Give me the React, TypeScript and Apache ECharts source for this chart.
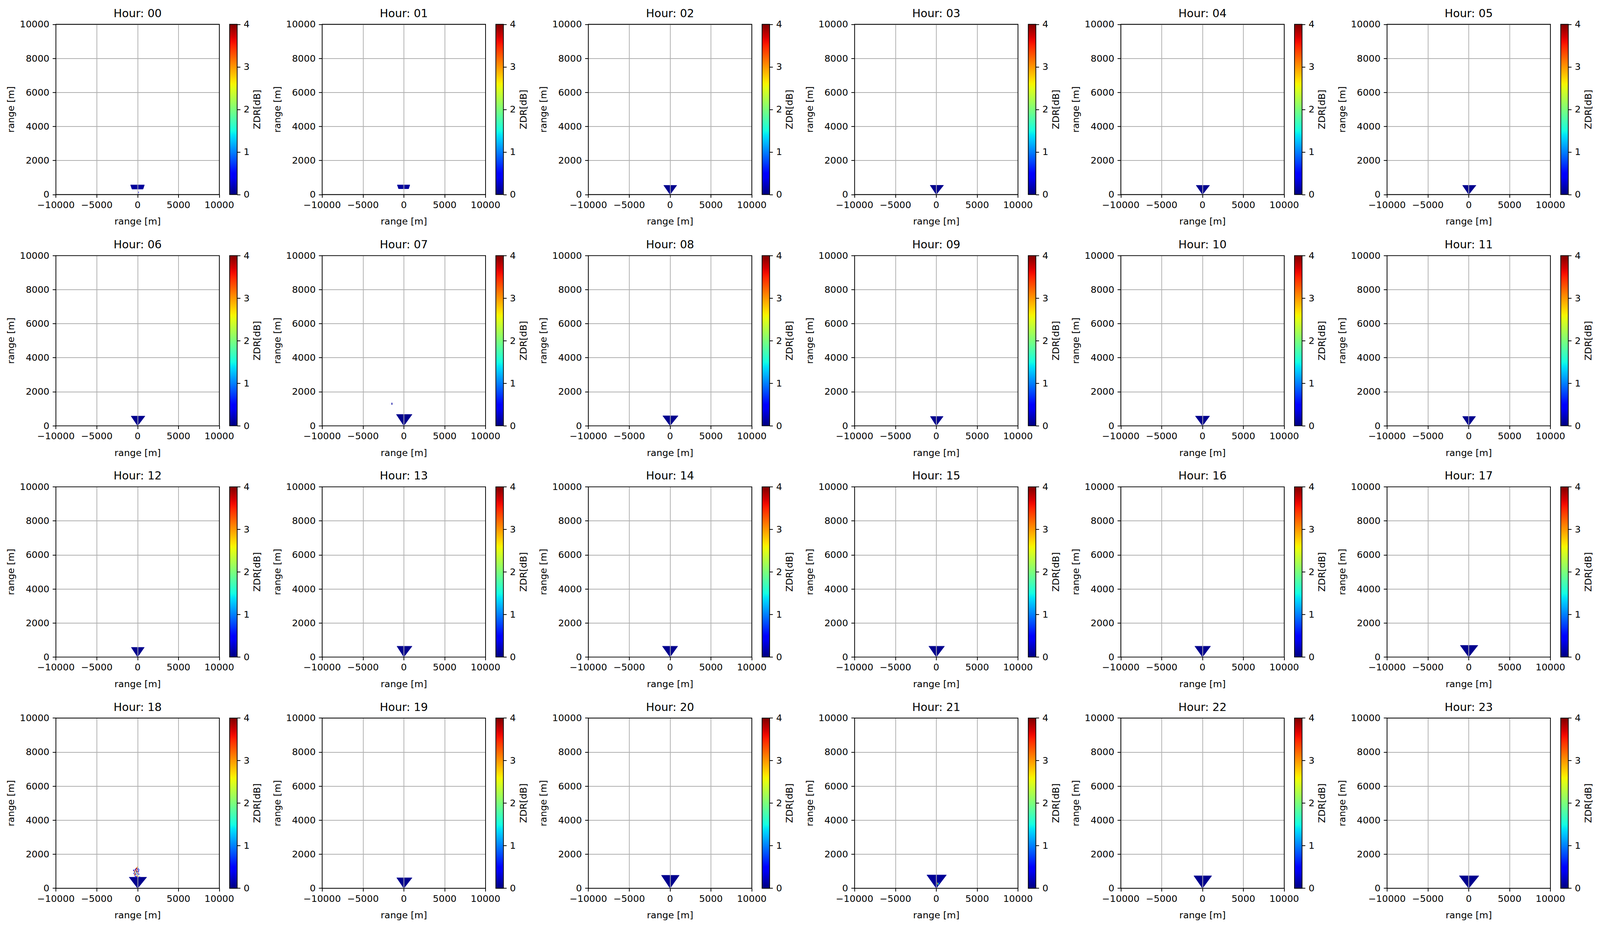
import React, { useEffect, useRef } from 'react';
import * as echarts from 'echarts';

// ---------------- data ----------------
const HOURS = ['00','01','02','03','04','05','06','07','08','09','10','11','12','13','14','15','16','17','18','19','20','21','22','23'];
const X_TICKS = [-10000, -5000, 0, 5000, 10000];
const Y_TICKS = [0, 2000, 4000, 6000, 8000, 10000];
const CB_TICKS = [0, 1, 2, 3, 4];

// echo wedge per hour (metres): top height, left / right edge at top, lower edge (0 = from radar), ZDR [dB]
const wedgeTop   = [565, 565, 540, 545, 539, 539, 569, 666, 587, 548, 569, 548, 569, 637, 637, 637, 637, 686, 650, 618, 764, 784, 735, 735];
const wedgeLeft  = [-865, -803, -779, -754, -779, -754, -800, -918, -893, -730, -873, -754, -779, -848, -943, -918, -943, -1037, -1040, -873, -1061, -1156, -1061, -1156];
const wedgeRight = [828, 730, 820, 893, 869, 893, 900, 1008, 988, 844, 869, 844, 820, 1008, 939, 1008, 988, 1127, 1110, 1008, 1127, 1246, 1127, 1246];
const wedgeBase  = [320, 340, 0, 0, 0, 0, 0, 0, 0, 0, 0, 0, 0, 0, 0, 0, 0, 0, 0, 0, 0, 0, 0, 0];
const wedgeZdr   = [0.1, 0.1, 0.05, 0.05, 0.05, 0.05, 0.05, 0.05, 0.05, 0.05, 0.05, 0.05, 0.05, 0.05, 0.05, 0.05, 0.05, 0.05, 0.05, 0.05, 0.05, 0.08, 0.05, 0.05];

// isolated gates: [hour index, x (m), height (m), ZDR (dB)]
const speckles: number[][] = [
  [0, 100, 130, 0.4], [0, 40, 50, 0.4],
  [7, -1459, 1323, 0.1], [7, -1459, 1270, 0.1],
  [18, -40, 1240, 3.0], [18, 40, 1200, 1.5], [18, -120, 1180, 3.8], [18, -200, 1150, 4.0],
  [18, 80, 1150, 0.3], [18, -300, 1100, 0.5], [18, -80, 1100, 3.5], [18, 160, 1080, 0.4],
  [18, -420, 1020, 3.9], [18, -250, 1000, 2.8], [18, 0, 1000, 3.9], [18, 120, 980, 0.6],
  [18, -350, 950, 0.2], [18, -150, 930, 1.2], [18, 60, 900, 3.6], [18, -450, 880, 0.4],
  [18, -280, 860, 3.7], [18, -60, 850, 0.5], [18, 150, 830, 0.2], [18, -380, 800, 3.9],
  [18, -180, 780, 2.5], [18, 20, 760, 0.3], [18, -300, 720, 0.4], [18, -100, 700, 3.8],
  [18, 100, 690, 2.4], [18, -220, 670, 0.6], [18, 250, 660, 0.3], [18, -500, 1060, 0.3],
  [18, -20, 1130, 0.2], [18, -230, 1060, 3.9], [18, 60, 1040, 0.3], [18, -130, 1010, 0.4],
  [18, -330, 900, 2.9], [18, -80, 960, 3.9], [18, 0, 820, 1.6], [18, -240, 820, 0.3],
  [21, 150, 300, 2.6], [21, 250, 260, 1.3], [21, 350, 320, 0.9], [21, 200, 220, 1.8],
];

// ---------------- style / layout (designed for 4778 x 2382, scaled to the real viewport) ----------------
const DESIGN_W = 4778;
const DESIGN_H = 2382;
const FONT = 'DejaVu Sans';
const AX_LEFT0 = 167;
const AX_TOP0 = 62.3;
const COL_PITCH = 795;
const ROW_PITCH = 592.3;
const AX_W = 488;
const AX_H = 436;
const CB_OFF = 518.7;
const CB_W = 22.6;
const LW = 2.2;
const TICK_LEN = 9.7;
const TICK_FS = 27.8;
const TITLE_FS = 33.3;
const SPECK_W = 100;
const SPECK_H = 65;
const BAND_FOOT = 0.8;

function interp(pts: number[][], t: number): number {
  for (let i = 1; i < pts.length; i++) {
    if (t <= pts[i][0]) {
      const [x0, y0] = pts[i - 1];
      const [x1, y1] = pts[i];
      return y0 + ((t - x0) / (x1 - x0 || 1)) * (y1 - y0);
    }
  }
  return pts[pts.length - 1][1];
}
const JET_R = [[0, 0], [0.35, 0], [0.66, 1], [0.89, 1], [1, 0.5]];
const JET_G = [[0, 0], [0.125, 0], [0.375, 1], [0.64, 1], [0.91, 0], [1, 0]];
const JET_B = [[0, 0.5], [0.11, 1], [0.34, 1], [0.65, 0], [1, 0]];
function jet(t: number): string {
  const u = Math.max(0, Math.min(1, t));
  const r = Math.round(255 * interp(JET_R, u));
  const g = Math.round(255 * interp(JET_G, u));
  const b = Math.round(255 * interp(JET_B, u));
  return `rgb(${r},${g},${b})`;
}
const CB_MIN = CB_TICKS[0];
const CB_MAX = CB_TICKS[CB_TICKS.length - 1];
function zdrColor(v: number): string {
  return jet((v - CB_MIN) / (CB_MAX - CB_MIN));
}
function fmt(v: number): string {
  return v < 0 ? '\u2212' + Math.abs(v) : String(v);
}

function buildOption(sx: number, sy: number) {
  const f = Math.min(sx, sy);
  const grid: any[] = [];
  const xAxis: any[] = [];
  const yAxis: any[] = [];
  const series: any[] = [];
  const graphic: any[] = [];
  const gradStops: any[] = [];
  for (let k = 0; k <= 40; k++) gradStops.push({ offset: k / 40, color: jet(k / 40) });

  const lw = LW * f;
  const labelStyle = { fontSize: TICK_FS * f, color: '#000', fontFamily: FONT };
  const tickStyle = { show: true, length: TICK_LEN * f, lineStyle: { color: '#000', width: lw } };
  const axW = AX_W * sx;
  const axH = AX_H * sy;

  HOURS.forEach((h, i) => {
    const r = Math.floor(i / 6);
    const c = i % 6;
    const left = (AX_LEFT0 + c * COL_PITCH) * sx;
    const top = (AX_TOP0 + r * ROW_PITCH) * sy;
    const gi = 2 * i;
    const ci = 2 * i + 1;

    grid.push({
      left, top, width: axW, height: axH, show: true, borderColor: '#000', borderWidth: lw,
      backgroundColor: 'transparent', containLabel: false, outerBoundsMode: 'none', z: 3,
    });
    xAxis.push({
      type: 'value', gridIndex: gi, min: X_TICKS[0], max: X_TICKS[X_TICKS.length - 1], interval: X_TICKS[1] - X_TICKS[0],
      z: 2,
      axisLine: { show: false, onZero: false },
      axisTick: tickStyle,
      axisLabel: { ...labelStyle, margin: 17 * f, formatter: (v: number) => fmt(v) },
      splitLine: { show: true, lineStyle: { color: '#b0b0b0', width: lw } },
    });
    yAxis.push({
      type: 'value', gridIndex: gi, min: Y_TICKS[0], max: Y_TICKS[Y_TICKS.length - 1], interval: Y_TICKS[1] - Y_TICKS[0],
      z: 2,
      axisLine: { show: false, onZero: false },
      axisTick: tickStyle,
      axisLabel: { ...labelStyle, margin: 19.4 * f, formatter: (v: number) => fmt(v) },
      splitLine: { show: true, lineStyle: { color: '#b0b0b0', width: lw } },
    });

    // colorbar
    grid.push({
      left: left + CB_OFF * sx, top, width: CB_W * sx, height: axH, show: true, borderColor: '#000', borderWidth: lw,
      backgroundColor: 'transparent', containLabel: false, outerBoundsMode: 'none', z: 3,
    });
    xAxis.push({ type: 'value', gridIndex: ci, min: 0, max: 1, show: false });
    yAxis.push({
      type: 'value', gridIndex: ci, position: 'right', min: CB_MIN, max: CB_MAX, interval: CB_TICKS[1] - CB_TICKS[0],
      z: 2,
      axisLine: { show: false, onZero: false },
      axisTick: tickStyle,
      axisLabel: { ...labelStyle, margin: 19.4 * f },
      splitLine: { show: false },
    });

    series.push({
      type: 'custom', name: 'wedge ' + h, xAxisIndex: gi, yAxisIndex: gi, z: 1, clip: true, silent: true,
      data: [[wedgeTop[i], wedgeLeft[i], wedgeRight[i], wedgeBase[i], wedgeZdr[i]]],
      renderItem: (_p: any, api: any) => {
        const tp = api.value(0), l = api.value(1), rr = api.value(2), base = api.value(3), z = api.value(4);
        const k = base > 0 ? BAND_FOOT : 0;
        const pts = [api.coord([l * k, base]), api.coord([l, tp]), api.coord([rr, tp]), api.coord([rr * k, base])];
        return { type: 'polygon', shape: { points: pts }, style: { fill: zdrColor(z), stroke: zdrColor(z), lineWidth: 1 } };
      },
    });
    const sp = speckles.filter((s) => s[0] === i).map((s) => [s[1], s[2], s[3]]);
    if (sp.length) {
      series.push({
        type: 'custom', name: 'gates ' + h, xAxisIndex: gi, yAxisIndex: gi, z: 1, clip: true, silent: true,
        data: sp,
        renderItem: (_p: any, api: any) => {
          const x = api.value(0), y = api.value(1), z = api.value(2);
          const p = api.coord([x - SPECK_W / 2, y + SPECK_H / 2]);
          const s = api.size([SPECK_W, SPECK_H]);
          return { type: 'rect', shape: { x: p[0], y: p[1], width: s[0], height: s[1] }, style: { fill: zdrColor(z) } };
        },
      });
    }
    series.push({
      type: 'custom', name: 'colorbar ' + h, xAxisIndex: ci, yAxisIndex: ci, z: 1, silent: true,
      data: [[0, CB_MIN, 1, CB_MAX]],
      renderItem: (_p: any, api: any) => {
        const p0 = api.coord([api.value(0), api.value(3)]);
        const p1 = api.coord([api.value(2), api.value(1)]);
        return {
          type: 'rect',
          shape: { x: p0[0], y: p0[1], width: p1[0] - p0[0], height: p1[1] - p0[1] },
          style: { fill: new echarts.graphic.LinearGradient(0, 1, 0, 0, gradStops) },
        };
      },
    });

    // texts
    graphic.push({
      type: 'text', x: left + axW / 2, y: top - 28.2 * sy, silent: true,
      style: { text: 'Hour: ' + h, fontSize: TITLE_FS * f, fontFamily: FONT, fill: '#000', align: 'center', verticalAlign: 'middle' },
    });
    graphic.push({
      type: 'text', x: left + axW / 2, y: top + axH + 69 * sy, silent: true,
      style: { text: 'range [m]', fontSize: TICK_FS * f, fontFamily: FONT, fill: '#000', align: 'center', verticalAlign: 'middle' },
    });
    graphic.push({
      type: 'text', x: left - 134.2 * sx, y: top + axH / 2, rotation: Math.PI / 2, silent: true,
      style: { text: 'range [m]', fontSize: TICK_FS * f, fontFamily: FONT, fill: '#000', align: 'center', verticalAlign: 'middle' },
    });
    graphic.push({
      type: 'text', x: left + 601 * sx, y: top + axH / 2, rotation: Math.PI / 2, silent: true,
      style: { text: 'ZDR[dB]', fontSize: TICK_FS * f, fontFamily: FONT, fill: '#000', align: 'center', verticalAlign: 'middle' },
    });
  });

  return {
    animation: false,
    backgroundColor: '#fff',
    textStyle: { fontFamily: FONT },
    grid, xAxis, yAxis, series, graphic,
  };
}

export default function App() {
  const ref = useRef<HTMLDivElement>(null);
  useEffect(() => {
    document.body.style.margin = '0';
    document.body.style.overflow = 'hidden';
    const el = ref.current;
    if (!el) return;
    const w = el.clientWidth || window.innerWidth || DESIGN_W;
    const h = el.clientHeight || window.innerHeight || DESIGN_H;
    const chart = echarts.init(el, undefined, { renderer: 'svg', width: w, height: h });
    chart.setOption(buildOption(w / DESIGN_W, h / DESIGN_H) as any);
    return () => chart.dispose();
  }, []);
  return <div ref={ref} style={{ position: 'fixed', left: 0, top: 0, width: '100vw', height: '100vh', background: '#fff' }} />;
}
